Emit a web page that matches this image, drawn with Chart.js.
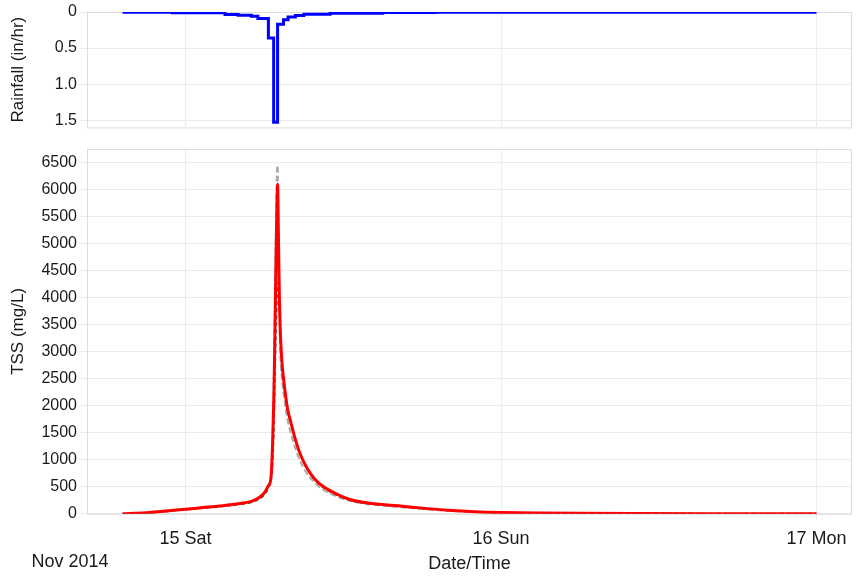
<!DOCTYPE html>
<html>
<head>
<meta charset="utf-8">
<script src="https://cdn.jsdelivr.net/npm/chart.js@4.4.0/dist/chart.umd.min.js"></script>
<style>
  html, body { margin: 0; padding: 0; background: #fff; }
  #wrap { position: relative; width: 859px; height: 582px; }
  #tssChart { position: absolute; left: 0; top: 135px; }
  #rainChart { position: absolute; left: 0; top: 0; }
</style>
</head>
<body>
<div id="wrap">
  <canvas id="tssChart" width="859" height="447"></canvas>
  <canvas id="rainChart" width="859" height="139"></canvas>
</div>
<script>
// x positions are hours from Nov 15 2014 00:00
const xTickValues = [0, 24, 48];
const xTickLabels = ["15 Sat", "16 Sun", "17 Mon"];
const rainTicks = [0, 0.5, 1.0, 1.5];
const tssTicks = [0, 500, 1000, 1500, 2000, 2500, 3000, 3500, 4000, 4500, 5000, 5500, 6000, 6500];

// rainfall intensity (in/hr), each value holds until the next hour listed
const rainHours = [-4.8, -1, 3, 4, 5, 5.5, 6.3, 6.7, 7.0, 7.45, 7.8, 8.35, 9, 11, 15, 19, 48];
const rainValues = [0.003, 0.012, 0.035, 0.045, 0.06, 0.09, 0.36, 1.53, 0.17, 0.107, 0.07, 0.05, 0.032, 0.018, 0.008, 0.002, 0.002];

// TSS (mg/L)
const tssHours = [-4.8, -3, -1.5, 0, 1.5, 3, 4, 5, 5.6, 6, 6.3, 6.5, 6.62, 6.72, 6.8, 6.88, 6.95, 7.0, 7.06, 7.13, 7.22, 7.35, 7.5, 7.75, 8, 8.3, 8.7, 9.2, 9.8, 10.5, 11.5, 12.5, 13.5, 15, 16.5, 18, 20, 22, 24, 27, 30, 34, 40, 48];
const tssModel = [0, 20, 50, 85, 120, 155, 185, 230, 300, 390, 520, 680, 1300, 2200, 3400, 4700, 5700, 6100, 5200, 4100, 3300, 2750, 2400, 1950, 1700, 1420, 1120, 860, 650, 500, 365, 265, 215, 170, 140, 105, 65, 38, 24, 14, 9, 5, 2, 0];
const tssRunA = [0, 18, 45, 80, 112, 148, 176, 220, 285, 370, 500, 700, 1400, 2600, 4000, 5400, 6300, 6450, 5000, 3700, 2900, 2450, 2150, 1750, 1500, 1250, 980, 760, 580, 440, 320, 240, 190, 150, 120, 88, 55, 32, 20, 12, 7, 4, 2, 0];
const tssRunB = [0, 15, 40, 75, 108, 140, 170, 210, 270, 350, 470, 620, 900, 1500, 2400, 3300, 3900, 4200, 4300, 3900, 3300, 2800, 2450, 2000, 1720, 1430, 1120, 850, 640, 480, 345, 250, 200, 160, 128, 95, 60, 35, 22, 13, 8, 5, 2, 0];

const FONT = "'Liberation Sans', Arial, sans-serif";
const TEXT = "#1a1a1a";
const GRID = "#ececec";
const X_MIN = -7.5;
const X_MAX = 50.7;
const AXIS_W = 87;

Chart.defaults.font.family = FONT;
Chart.defaults.font.size = 16;
Chart.defaults.color = TEXT;

function toPoints(xs, ys) {
  return xs.map((x, i) => ({ x: x, y: ys[i] }));
}

// light frame around the plot area
const framePlugin = {
  id: "frame",
  beforeDatasetsDraw(chart) {
    const a = chart.chartArea;
    const ctx = chart.ctx;
    ctx.save();
    ctx.strokeStyle = "#dcdcdc";
    ctx.lineWidth = 1;
    ctx.strokeRect(a.left + 0.5, a.top + 0.5, a.right - a.left - 1, a.bottom - a.top);
    ctx.restore();
  },
};

// "Nov 2014" under the first day label
const monthPlugin = {
  id: "month",
  afterDraw(chart) {
    const ctx = chart.ctx;
    ctx.save();
    ctx.font = "18px " + FONT;
    ctx.fillStyle = TEXT;
    ctx.textAlign = "center";
    ctx.textBaseline = "middle";
    ctx.fillText("Nov 2014", 70, chart.height - 20);
    ctx.restore();
  },
};

function xAxis(showTicks) {
  return {
    type: "linear",
    min: X_MIN,
    max: X_MAX,
    afterBuildTicks: (s) => {
      s.ticks = xTickValues.map((v) => ({ value: v }));
    },
    ticks: {
      display: showTicks,
      autoSkip: false,
      padding: 8,
      maxRotation: 0,
      font: { size: 18 },
      callback: (v) => xTickLabels[xTickValues.indexOf(v)],
    },
    grid: { color: GRID, drawTicks: showTicks, tickLength: 6 },
    border: { display: false },
    title: {
      display: showTicks,
      text: "Date/Time",
      font: { size: 18 },
      padding: { top: -4, bottom: 4 },
    },
  };
}

function yAxis(ticks, label) {
  return {
    afterBuildTicks: (s) => {
      s.ticks = ticks.map((v) => ({ value: v }));
    },
    afterFit: (s) => {
      s.width = AXIS_W;
    },
    ticks: { autoSkip: false, padding: 2, callback: (v) => String(v) },
    grid: { color: GRID, tickLength: 8 },
    border: { display: false },
    title: { display: true, text: label, font: { size: 17 }, padding: { top: 8, bottom: 4 } },
  };
}

const rainY = yAxis(rainTicks, "Rainfall (in/hr)");
rainY.reverse = true;
rainY.min = 0;
rainY.max = 1.6;
rainY.ticks.callback = (v) => (v === 0 ? "0" : v.toFixed(1));

const rainX = xAxis(false);
rainX.afterFit = (s) => {
  s.height = 0;
};

new Chart(document.getElementById("rainChart"), {
  type: "line",
  data: {
    datasets: [
      {
        data: toPoints(rainHours, rainValues),
        borderColor: "#0000ff",
        borderWidth: 3,
        stepped: true,
        pointRadius: 0,
        fill: false,
      },
    ],
  },
  options: {
    responsive: false,
    animation: false,
    devicePixelRatio: 1,
    layout: { padding: { top: 12, bottom: 0, right: 7, left: 0 } },
    plugins: { legend: { display: false }, tooltip: { enabled: false } },
    scales: {
      x: rainX,
      y: rainY,
    },
  },
  plugins: [framePlugin],
});

const tssY = yAxis(tssTicks, "TSS (mg/L)");
tssY.min = 0;
tssY.max = 6750;
tssY.border = { display: true, color: "#cccccc", width: 1 };

function tssLine(label, values, color, width, dash) {
  return {
    label: label,
    data: toPoints(tssHours, values),
    borderColor: color,
    borderWidth: width,
    borderDash: dash,
    pointRadius: 0,
    cubicInterpolationMode: "monotone",
    fill: false,
  };
}

new Chart(document.getElementById("tssChart"), {
  type: "line",
  data: {
    datasets: [
      tssLine("Model", tssModel, "#ff0000", 3, []),
      tssLine("Run B", tssRunB, "#555555", 1.5, [4, 3]),
      tssLine("Run A", tssRunA, "#a8a8a8", 2, [6, 3]),
    ],
  },
  options: {
    responsive: false,
    animation: false,
    devicePixelRatio: 1,
    layout: { padding: { top: 14, bottom: 3, right: 7, left: 0 } },
    plugins: { legend: { display: false }, tooltip: { enabled: false } },
    scales: {
      x: xAxis(true),
      y: tssY,
    },
  },
  plugins: [framePlugin, monthPlugin],
});
</script>
</body>
</html>
